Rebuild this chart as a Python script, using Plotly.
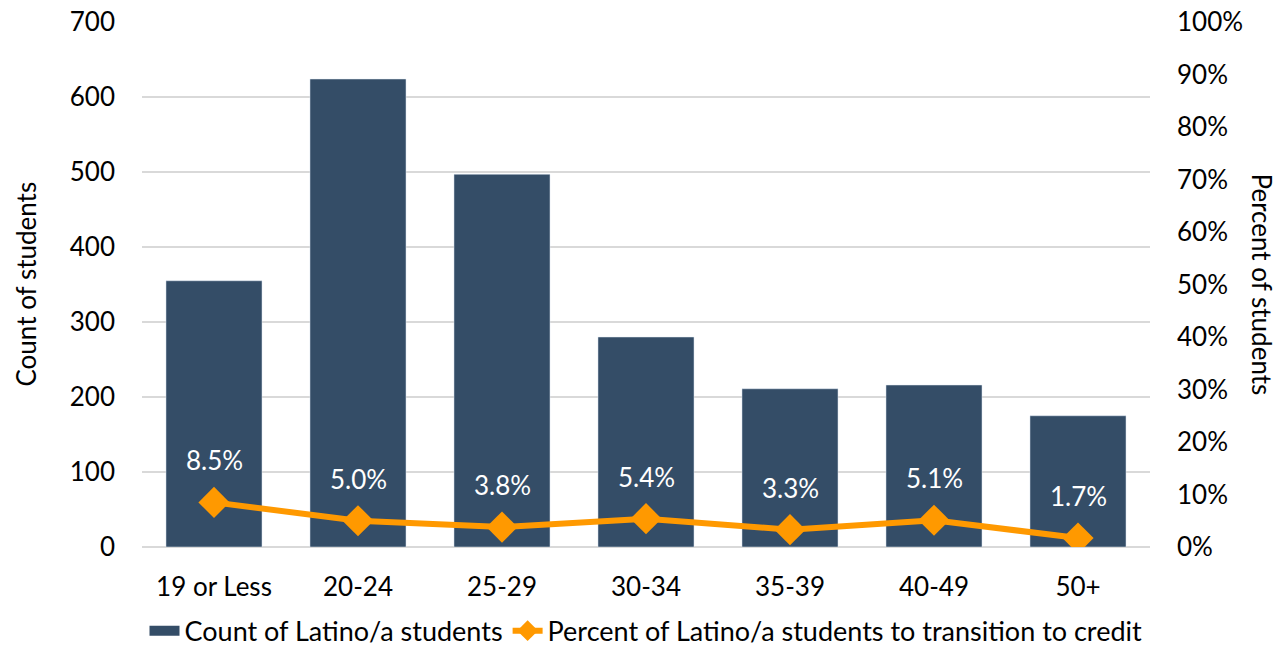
import plotly.graph_objects as go

age_groups = ["19 or Less", "20-24", "25-29", "30-34", "35-39", "40-49", "50+"]
student_counts = [355, 624, 497, 280, 211, 216, 175]
transition_pct = [0.085, 0.050, 0.038, 0.054, 0.033, 0.051, 0.017]
pct_labels = ["8.5%", "5.0%", "3.8%", "5.4%", "3.3%", "5.1%", "1.7%"]

FONT = "Lato"
BAR_COLOR = "#344D67"
LINE_COLOR = "#FF9900"
GRID_COLOR = "#D9D9D9"
FS = 26

fig = go.Figure()

fig.add_trace(go.Bar(
    x=age_groups,
    y=student_counts,
    name="Count of Latino/a students",
    marker=dict(color=BAR_COLOR),
    yaxis="y",
    showlegend=False,
))

# legend-only entry drawn as a thick swatch for the bar series
fig.add_trace(go.Scatter(
    x=[None], y=[None],
    name="Count of Latino/a students",
    mode="lines",
    line=dict(color=BAR_COLOR, width=20),
    yaxis="y",
    showlegend=True,
))

fig.add_trace(go.Scatter(
    x=age_groups,
    y=transition_pct,
    name="Percent of Latino/a students to transition to credit",
    mode="lines+markers",
    line=dict(color=LINE_COLOR, width=6),
    marker=dict(symbol="diamond", size=24, color=LINE_COLOR),
    yaxis="y2",
))

# Percent labels sit above each line point, inside the bars
for cat, val, lab in zip(age_groups, transition_pct, pct_labels):
    fig.add_annotation(
        x=cat, y=val, xref="x", yref="y2",
        text=lab, showarrow=False, yshift=42,
        font=dict(family=FONT, size=FS, color="white"),
    )

# Axis titles
fig.add_annotation(
    text="Count of students", xref="paper", yref="paper", x=0, y=0.5,
    xanchor="center", yanchor="middle",
    xshift=-117, textangle=-90, showarrow=False,
    font=dict(family=FONT, size=FS, color="black"),
)
fig.add_annotation(
    text="Percent of students", xref="paper", yref="paper", x=1, y=0.5,
    xanchor="center", yanchor="middle",
    xshift=112, textangle=90, showarrow=False,
    font=dict(family=FONT, size=FS, color="black"),
)

fig.update_layout(
    width=1283, height=648,
    margin=dict(l=142, r=133, t=22, b=101, autoexpand=False),
    paper_bgcolor="white", plot_bgcolor="white",
    font=dict(family=FONT, size=FS, color="black"),
    bargap=0.333,
    showlegend=True,
    legend=dict(
        orientation="h", x=0.5, xanchor="center",
        yref="container", y=0.026, yanchor="middle",
        font=dict(family=FONT, size=27, color="black"),
        traceorder="normal", tracegroupgap=0, itemwidth=30,
    ),
    xaxis=dict(
        showgrid=False, showline=False, ticks="",
        tickfont=dict(family=FONT, size=FS),
        ticklabelstandoff=22,
    ),
    yaxis=dict(
        range=[0, 700], dtick=100, showgrid=True, gridcolor=GRID_COLOR, gridwidth=2,
        zeroline=True, zerolinecolor=GRID_COLOR, zerolinewidth=2,
        tickfont=dict(family=FONT, size=FS),
        ticklabelstandoff=26,
    ),
    yaxis2=dict(
        range=[0, 1], dtick=0.1, tickformat=".0%", overlaying="y", side="right",
        showgrid=False, zeroline=False,
        tickfont=dict(family=FONT, size=FS),
        ticklabelstandoff=26,
    ),
)

fig.write_html("out.html")
